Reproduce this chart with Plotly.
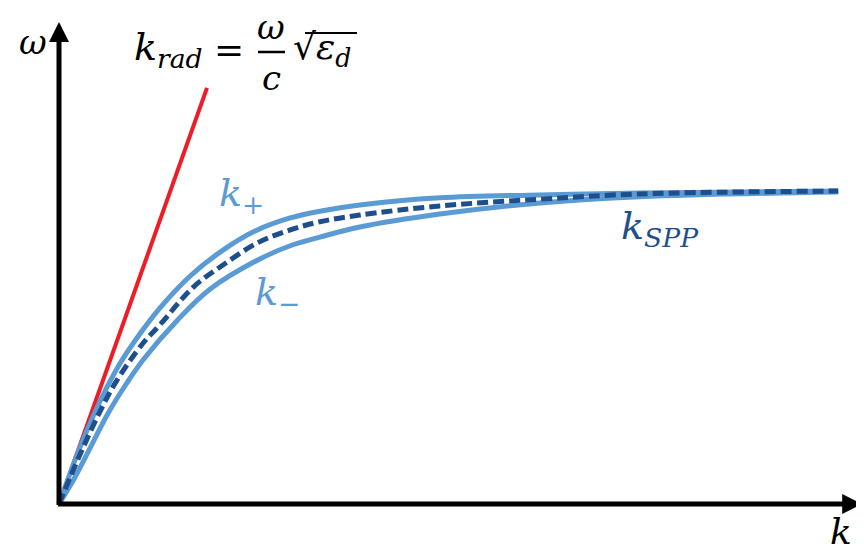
import plotly.graph_objects as go

# dispersion curves (k and omega in arbitrary units)
k_plus = [0, 0.26, 0.51, 0.76, 1.01, 1.26, 1.64, 2.05, 2.48, 2.89, 3.26, 3.76, 4.76, 6.01, 7.26, 9.74]
w_plus = [0, 1.17, 2.13, 2.92, 3.54, 4.08, 4.75, 5.29, 5.71, 5.96, 6.10, 6.23, 6.38, 6.44, 6.48, 6.52]

k_minus = [0, 0.18, 0.39, 0.61, 0.84, 1.05, 1.48, 1.89, 2.48, 2.89, 3.26, 3.76, 4.76, 6.01, 7.26, 9.74]
w_minus = [0, 0.50, 1.17, 1.88, 2.50, 3.00, 3.83, 4.48, 5.08, 5.38, 5.56, 5.77, 6.04, 6.27, 6.40, 6.50]

k_spp = [0, 0.26, 0.51, 0.71, 1.05, 1.26, 1.68, 2.05, 2.48, 2.89, 3.26, 3.76, 4.76, 6.01, 7.26, 9.74]
w_spp = [0, 1.02, 1.92, 2.54, 3.35, 3.73, 4.52, 4.98, 5.44, 5.71, 5.88, 6.02, 6.21, 6.35, 6.46, 6.52]

k_rad = [0, 1.85]
w_rad = [0, 8.67]

axis_end = 10.04

W, H = 864, 554
OFF = 8  # page body margin in the browser
LIGHT = "#5B9BD5"
DARK = "#1F4E8C"
RED = "#EE1C25"
FONT = "DejaVu Serif"

fig = go.Figure()
fig.add_trace(go.Scatter(x=k_rad, y=w_rad, mode="lines",
                         line=dict(color=RED, width=4)))
fig.add_trace(go.Scatter(x=k_plus, y=w_plus, mode="lines",
                         line=dict(color=LIGHT, width=5, shape="spline")))
fig.add_trace(go.Scatter(x=k_minus, y=w_minus, mode="lines",
                         line=dict(color=LIGHT, width=5, shape="spline")))
fig.add_trace(go.Scatter(x=k_spp, y=w_spp, mode="lines",
                         line=dict(color=DARK, width=5, shape="spline", dash="11px,5px")))


def px(x, y):
    return dict(x=(x - OFF) / W, y=1 - (y - OFF) / H, xref="paper", yref="paper")


def label(x, y, text, size, color="black"):
    fig.add_annotation(**px(x, y), text=text, showarrow=False,
                       xanchor="center", yanchor="middle",
                       font=dict(family=FONT, size=size, color=color))


def hline(x0, x1, y, width):
    a, b = px(x0, y), px(x1, y)
    fig.add_shape(type="line", xref="paper", yref="paper",
                  x0=a["x"], x1=b["x"], y0=a["y"], y1=b["y"],
                  line=dict(color="black", width=width))


# axes with arrows
fig.add_annotation(x=0, y=axis_end, ax=0, ay=-0.05, xref="x", yref="y",
                   axref="x", ayref="y", showarrow=True, arrowhead=2,
                   arrowsize=0.8, arrowwidth=5, arrowcolor="black", text="")
fig.add_annotation(x=axis_end, y=0, ax=-0.03, ay=0, xref="x", yref="y",
                   axref="x", ayref="y", showarrow=True, arrowhead=2,
                   arrowsize=0.8, arrowwidth=5, arrowcolor="black", text="")

label(33, 42, "<i>ω</i>", 34)
label(841, 531, "<i>k</i>", 36)

# k_rad = (omega / c) sqrt(eps_d)
label(168, 50, "<i>k</i><sub><i>rad</i></sub>", 38)
label(229, 50, "=", 36)
label(271, 27, "<i>ω</i>", 34)
label(271, 78, "<i>c</i>", 34)
hline(258, 285, 52, 2.5)
label(322, 50, "√<i>ε</i><sub><i>d</i></sub>", 36)
hline(305, 357, 33, 2)

label(241, 196, "<i>k</i><sub>+</sub>", 38, LIGHT)
label(277, 294, "<i>k</i><sub>−</sub>", 38, LIGHT)
label(660, 228, "<i>k</i><sub><i>SPP</i></sub>", 38, DARK)

fig.update_xaxes(range=[-(59 - OFF) / 80, (W - 59 + OFF) / 80], visible=False)
fig.update_yaxes(range=[-(H - 504 + OFF) / 48, (504 - OFF) / 48], visible=False)
fig.update_layout(width=W, height=H, margin=dict(l=0, r=0, t=0, b=0),
                  showlegend=False, plot_bgcolor="white", paper_bgcolor="white")

fig.write_html("out.html")
